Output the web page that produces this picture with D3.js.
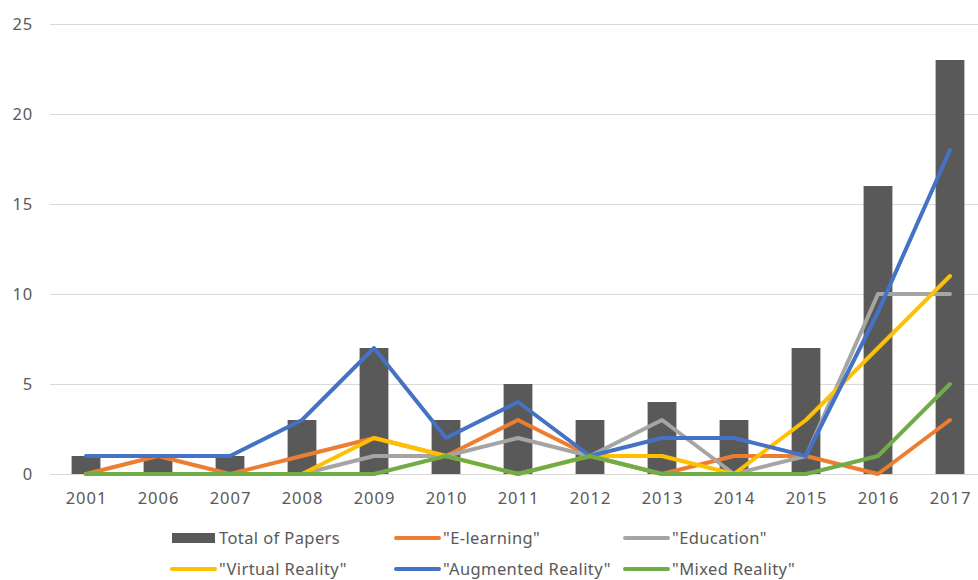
<!DOCTYPE html>
<html>
<head>
<meta charset="utf-8">
<script src="https://cdn.jsdelivr.net/npm/d3@7"></script>
<style>
  html, body { margin: 0; padding: 0; background: #ffffff; }
  svg { display: block; }
  text { font-family: "Noto Sans", "Open Sans", sans-serif; fill: #595959; }
</style>
</head>
<body>
<svg id="chart" width="978" height="580"></svg>
<script>
const categories = ["2001","2006","2007","2008","2009","2010","2011","2012","2013","2014","2015","2016","2017"];
const totalPapers = [1,1,1,3,7,3,5,3,4,3,7,16,23];
const eLearning   = [0,1,0,1,2,1,3,1,0,1,1,0,3];
const education   = [0,0,0,0,1,1,2,1,3,0,1,10,10];
const virtualReality   = [0,0,0,0,2,1,0,1,1,0,3,7,11];
const augmentedReality = [1,1,1,3,7,2,4,1,2,2,1,9,18];
const mixedReality     = [0,0,0,0,0,1,0,1,0,0,0,1,5];
const yTicks = [0,5,10,15,20,25];

const barName = "Total of Papers";
const barColor = "#595959";
const lineSeries = [
  { name: "\"E-learning\"", values: eLearning, color: "#ED7D31" },
  { name: "\"Education\"", values: education, color: "#A5A5A5" },
  { name: "\"Virtual Reality\"", values: virtualReality, color: "#FFC000" },
  { name: "\"Augmented Reality\"", values: augmentedReality, color: "#4472C4" },
  { name: "\"Mixed Reality\"", values: mixedReality, color: "#70AD47" }
];

const W = 978, H = 580;
const svg = d3.select("#chart");

const x = d3.scaleBand().domain(categories).range([50, 986]).paddingInner(0.6).paddingOuter(0.3);
const y = d3.scaleLinear().domain([0, 25]).range([474, 24]);
const cx = c => x(c) + x.bandwidth() / 2;

// grid + y labels
const yAxis = d3.axisLeft(y).tickValues(yTicks).tickSize(-(W - 50)).tickPadding(17);
const gy = svg.append("g").attr("transform", "translate(50,0)").call(yAxis);
gy.select(".domain").remove();
gy.selectAll(".tick line").attr("stroke", "#D9D9D9").attr("stroke-width", 1.2);
gy.selectAll(".tick text").attr("font-size", 16.5).attr("fill", "#595959")
  .attr("letter-spacing", 0.8)
  .style("font-family", "\"Noto Sans\", sans-serif");

// x labels
const xAxis = d3.axisBottom(x).tickSize(0).tickPadding(18);
const gx = svg.append("g").attr("transform", "translate(0,474)").call(xAxis);
gx.select(".domain").remove();
gx.selectAll(".tick text").attr("font-size", 16.5).attr("fill", "#595959")
  .attr("letter-spacing", 1).attr("dx", 0.5)
  .style("font-family", "\"Noto Sans\", sans-serif");

// bars
svg.append("g").selectAll("rect").data(categories).join("rect")
  .attr("x", c => x(c))
  .attr("width", x.bandwidth())
  .attr("y", (c, i) => y(totalPapers[i]))
  .attr("height", (c, i) => y(0) - y(totalPapers[i]))
  .attr("fill", barColor);

// lines
const line = d3.line().x((d, i) => cx(categories[i])).y(d => y(d));
svg.append("g").selectAll("path").data(lineSeries).join("path")
  .attr("d", s => line(s.values))
  .attr("fill", "none")
  .attr("stroke", s => s.color)
  .attr("stroke-width", 4)
  .attr("stroke-linejoin", "round")
  .attr("stroke-linecap", "round");

// legend
const legendItems = [{ name: barName, color: barColor, type: "bar" }]
  .concat(lineSeries.map(s => ({ name: s.name, color: s.color, type: "line" })));
const colX = [172, 396, 625];
const rowY = [538, 569];
const lg = svg.append("g");
legendItems.forEach((it, i) => {
  const col = i % 3, row = Math.floor(i / 3);
  const g = lg.append("g").attr("transform", `translate(${colX[col]},${rowY[row]})`);
  if (it.type === "bar") {
    g.append("rect").attr("x", 0).attr("y", -5).attr("width", 43).attr("height", 10).attr("fill", it.color);
  } else {
    g.append("line").attr("x1", 0).attr("x2", 43).attr("y1", 0).attr("y2", 0)
      .attr("stroke", it.color).attr("stroke-width", 4).attr("stroke-linecap", "round");
  }
  g.append("text").attr("x", 47).attr("y", 0).attr("dy", "0.34em")
    .attr("font-size", 16.5).attr("letter-spacing", 0.4).text(it.name);
});
</script>
</body>
</html>
